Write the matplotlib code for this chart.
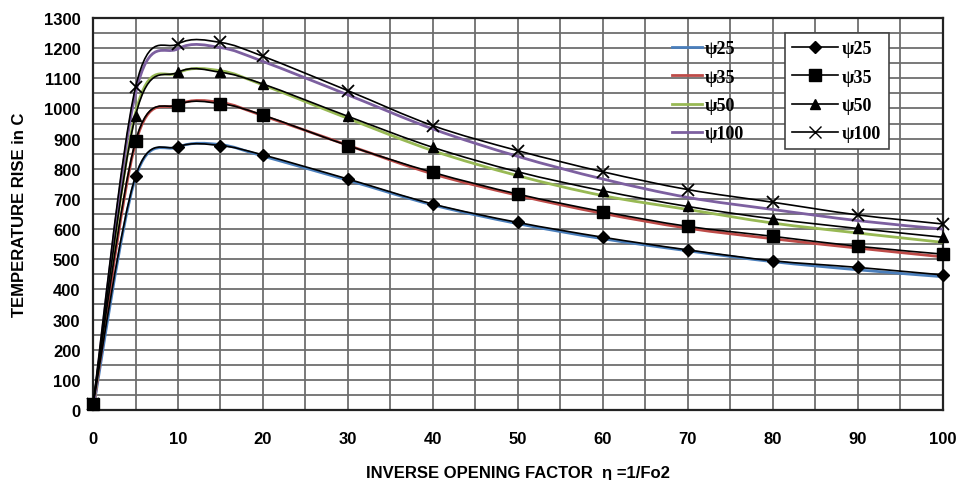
import numpy as np
import matplotlib
matplotlib.use("Agg")
import matplotlib.pyplot as plt
from matplotlib.path import Path
from matplotlib.patches import PathPatch
from matplotlib.lines import Line2D

# inverse opening factor
eta = [0, 5, 10, 15, 20, 30, 40, 50, 60, 70, 80, 90, 100]

# smoothed curves (coloured)
fit25 = [0, 770, 872, 880, 842, 762, 680, 618, 568, 528, 492, 465, 442]
fit35 = [0, 885, 1012, 1020, 976, 878, 783, 712, 652, 603, 568, 537, 508]
fit50 = [0, 985, 1118, 1125, 1078, 967, 860, 777, 711, 665, 620, 587, 556]
fit100 = [0, 1050, 1198, 1202, 1156, 1045, 932, 841, 766, 705, 665, 628, 600]

# measured points (black with markers)
pts25 = [20, 775, 873, 877, 846, 766, 683, 622, 573, 531, 495, 473, 448]
pts35 = [20, 891, 1012, 1016, 978, 877, 788, 716, 658, 609, 576, 543, 517]
pts50 = [20, 976, 1120, 1120, 1081, 974, 871, 790, 727, 675, 634, 602, 573]
pts100 = [20, 1070, 1214, 1219, 1173, 1059, 943, 860, 790, 731, 689, 647, 617]

labels = ["\u03c825", "\u03c835", "\u03c850", "\u03c8100"]
colors = ["#4a7ebb", "#be4b48", "#98b954", "#7d60a0"]
markers = ["D", "s", "^", "x"]
msizes = [6, 9, 7, 8]


def smooth_path(xs, ys):
    # Catmull-Rom segments as cubic Bezier, like spreadsheet smoothed lines
    p = np.column_stack([xs, ys]).astype(float)
    n = len(p)
    verts = [p[0]]
    codes = [Path.MOVETO]
    for i in range(n - 1):
        p0 = p[i - 1] if i > 0 else p[i]
        p1 = p[i]
        p2 = p[i + 1]
        p3 = p[i + 2] if i + 2 < n else p[i + 1]
        c1 = p1 + (p2 - p0) / 6.0
        c2 = p2 - (p3 - p1) / 6.0
        verts += [c1, c2, p2]
        codes += [Path.CURVE4] * 3
    return Path(verts, codes)


fig = plt.figure(figsize=(9.59, 4.81), dpi=100)
ax = fig.add_axes([0.097, 0.1455, 0.886, 0.815])

ax.set_xlim(0, 100)
ax.set_ylim(0, 1300)
ax.set_xticks(range(0, 101, 10))
ax.set_yticks(range(0, 1301, 100))
ax.set_xticks(range(0, 101, 5), minor=True)
ax.set_yticks(range(0, 1301, 50), minor=True)
ax.grid(True, which="both", color="#6e6e6e", linewidth=1.3)
ax.set_axisbelow(True)
ax.tick_params(which="both", length=0)
ax.tick_params(axis="y", pad=9)
ax.tick_params(axis="x", pad=15)
for lab in ax.get_xticklabels() + ax.get_yticklabels():
    lab.set_fontfamily("Liberation Sans")
    lab.set_fontweight("bold")
    lab.set_fontsize(12)
for sp in ax.spines.values():
    sp.set_linewidth(1.6)
    sp.set_color("#222222")

fits = [fit25, fit35, fit50, fit100]
pts = [pts25, pts35, pts50, pts100]

for fy, c in zip(fits, colors):
    ax.add_patch(PathPatch(smooth_path(eta, fy), facecolor="none",
                           edgecolor=c, linewidth=2.0, zorder=3))

for py, m, ms in zip(pts, markers, msizes):
    ax.add_patch(PathPatch(smooth_path(eta, py), facecolor="none",
                           edgecolor="black", linewidth=1.2, zorder=4))
    ax.plot(eta, py, linestyle="none", marker=m, markersize=ms, color="black",
            markeredgewidth=1.3 if m == "x" else 1, zorder=5, clip_on=False)

leg_font = {"family": "Liberation Serif", "weight": "bold", "size": 13}

h1 = [Line2D([], [], color=c, linewidth=2) for c in colors]
leg1 = ax.legend(h1, labels, loc="upper left", bbox_to_anchor=(0.662, 0.985),
                 frameon=False, prop=leg_font, handlelength=1.7,
                 handletextpad=0.12, labelspacing=0.63)
ax.add_artist(leg1)

h2 = [Line2D([], [], color="black", linewidth=1.2, marker=m, markersize=ms)
      for m, ms in zip(markers, msizes)]
leg2 = ax.legend(h2, labels, loc="upper left", bbox_to_anchor=(0.804, 0.985),
                 frameon=True, fancybox=False, prop=leg_font, handlelength=2.5,
                 handletextpad=0.25, labelspacing=0.63, borderpad=0.4)
leg2.get_frame().set_edgecolor("#444444")
leg2.get_frame().set_linewidth(1.2)
leg2.get_frame().set_alpha(1)

ax.set_xlabel("INVERSE OPENING FACTOR  \u03b7 =1/Fo2", fontfamily="Liberation Sans",
              fontweight="bold", fontsize=12, labelpad=14)
ax.set_ylabel("TEMPERATURE RISE in C", fontfamily="Liberation Sans",
              fontweight="bold", fontsize=12, labelpad=12)

fig.savefig("out.png", dpi=100)
